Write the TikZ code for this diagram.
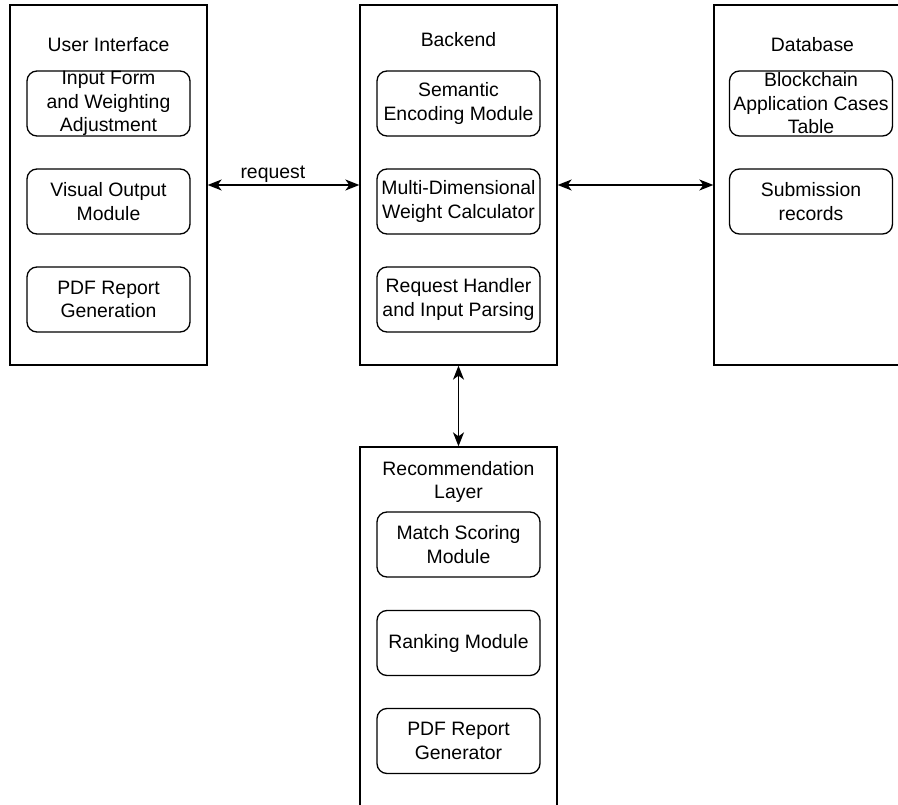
\documentclass[tikz,border=0pt]{standalone}
\usepackage{fontspec}
\setmainfont{Liberation Sans}
\usetikzlibrary{arrows.meta}

\begin{document}
\begin{tikzpicture}[x=1pt, y=-1pt, >={Stealth[length=14pt,width=11pt,inset=4pt]},
    layer/.style={draw, line width=1.3pt, minimum width=197pt},
    module/.style={draw, line width=1.3pt, rounded corners=10pt, minimum width=163pt,
      minimum height=65pt, align=center, inner sep=0pt},
    every node/.style={font=\fontsize{19.4}{23.5}\selectfont}]
    \useasboundingbox (0,0) rectangle (898,805);
    \clip (0,0) rectangle (898,805);

    % --- containers ---
    \node[layer, minimum height=360pt] (ui) at (108.5,185) {};
    \node[layer, minimum height=360pt] (backend) at (458.5,185) {};
    \node[layer, minimum height=360pt] (db) at (812.5,185) {};
    \node[layer, minimum height=383pt] (rec) at (458.5,638.5) {};

    % titles
    \node (uititle) at (108.5,45) {User Interface};
    \node (betitle) at (458.5,40) {Backend};
    \node (dbtitle) at (812.5,45) {Database};
    \node[align=center] (rectitle) at (458.5,482) {Recommendation\\Layer};

    % --- user interface ---
    \node[module] (ui1) at (108.5,103.5) {Input Form\\and Weighting\\Adjustment};
    \node[module] (ui2) at (108.5,201.5) {Visual Output\\Module};
    \node[module] (ui3) at (108.5,299.5) {PDF Report\\Generation};

    % --- backend ---
    \node[module] (be1) at (458.5,103.5) {Semantic\\Encoding Module};
    \node[module] (be2) at (458.5,201.5) {Multi-Dimensional\\Weight Calculator};
    \node[module] (be3) at (458.5,299.5) {Request Handler\\and Input Parsing};

    % --- database ---
    \node[module] (db1) at (811,103.5) {Blockchain\\Application Cases\\Table};
    \node[module] (db2) at (811,201.5) {Submission\\records};

    % --- recommendation ---
    \node[module] (rec1) at (458.5,544.5) {Match Scoring\\Module};
    \node[module] (rec2) at (458.5,643) {Ranking Module};
    \node[module] (rec3) at (458.5,741) {PDF Report\\Generator};

    % connectors
    \draw[<->, line width=1.5pt] (ui.east) -- (backend.west)
      node[pos=0.43, above, inner sep=2pt] (req) {request};
    \draw[<->, line width=1.5pt] (backend.east) -- (db.west);
    \draw[<->, line width=1.5pt] (backend.south) -- (rec.north);
\end{tikzpicture}
\end{document}
